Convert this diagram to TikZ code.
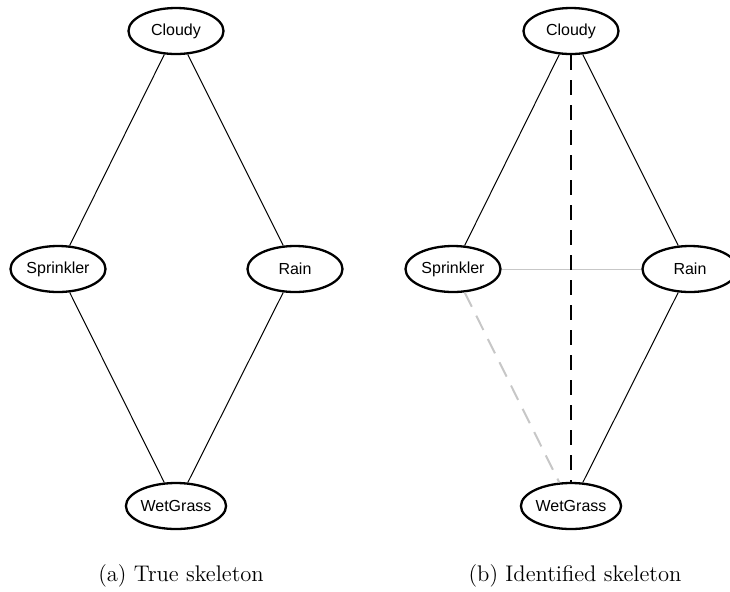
\documentclass[tikz,border=0pt]{standalone}
\usepackage{fontspec}
\newfontfamily\nodefont{Liberation Sans}
\usetikzlibrary{shapes.geometric}

\def\scale{0.5pt}

\tikzset{
  var/.style={ellipse, draw, line width=1.15pt, minimum width=47.5pt, minimum height=23pt,
    inner sep=0pt, font=\nodefont\fontsize{8}{9.6}\selectfont},
  link/.style={line width=0.5pt},
  weak/.style={line width=0.5pt, black!22},
  spurious/.style={line width=1pt, black!22, dash pattern=on 8pt off 5pt},
  missed/.style={line width=1.3pt, dash pattern=on 7.5pt off 5pt},
  caption/.style={font=\fontsize{11.3}{13.6}\selectfont}
}

\begin{document}
\begin{tikzpicture}[x=\scale, y=-\scale]
      \clip (0,0) rectangle (730,591);
      \useasboundingbox (0,0) rectangle (730,591);
      % (a) true skeleton
      \node[var] (cloudyA) at (176,31) {Cloudy};
      \node[var] (sprinklerA) at (58,269) {Sprinkler};
      \node[var] (rainA) at (295,269) {Rain};
      \node[var] (grassA) at (176,506) {WetGrass};
      \draw[link] (cloudyA) -- (sprinklerA);
      \draw[link] (cloudyA) -- (rainA);
      \draw[link] (sprinklerA) -- (grassA);
      \draw[link] (rainA) -- (grassA);
      \node[caption] (capA) at (181,576) {(a) True skeleton};
      % (b) identified skeleton
      \node[var] (cloudyB) at (571,31) {Cloudy};
      \node[var] (sprinklerB) at (453,269) {Sprinkler};
      \node[var] (rainB) at (690,269) {Rain};
      \node[var] (grassB) at (571,506) {WetGrass};
      \draw[link] (cloudyB) -- (sprinklerB);
      \draw[link] (cloudyB) -- (rainB);
      \draw[link] (rainB) -- (grassB);
      \draw[weak] (sprinklerB) -- (rainB);
      \draw[spurious] (sprinklerB) -- (grassB);
      \draw[missed] (cloudyB) -- (grassB);
      \node[caption] (capB) at (575,576) {(b) Identified skeleton};
\end{tikzpicture}
\end{document}
